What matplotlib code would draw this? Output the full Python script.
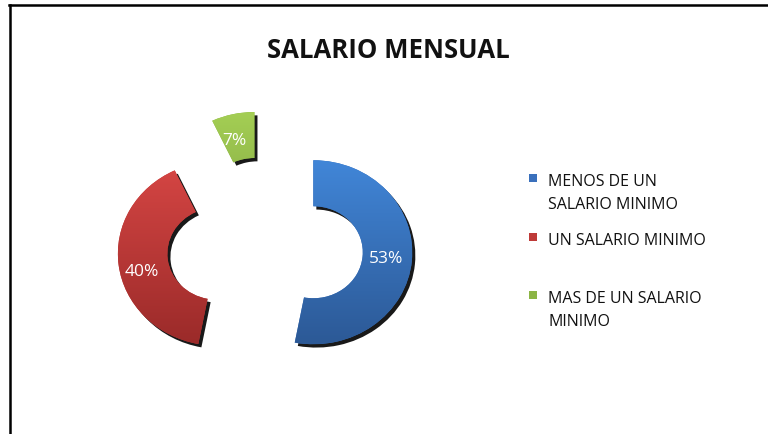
import numpy as np
import matplotlib
matplotlib.use("Agg")
import matplotlib.pyplot as plt
import matplotlib.patheffects as pe
import matplotlib.transforms as mtransforms
from matplotlib.patches import Rectangle
from matplotlib.lines import Line2D
from matplotlib.colors import to_rgb

plt.rcParams['font.family'] = ['Open Sans', 'DejaVu Sans']

title = "SALARIO MENSUAL"
categories = ["MENOS DE UN\nSALARIO MINIMO", "UN SALARIO MINIMO", "MAS DE UN SALARIO\nMINIMO"]
values = [53, 40, 7]
top_colors = ["#4186D8", "#D64644", "#A4CE54"]
bottom_colors = ["#2C5996", "#9A2A29", "#6F9238"]
base_colors = ["#3A70BC", "#BE3A38", "#8CB545"]

W, H = 768, 434
fig = plt.figure(figsize=(W / 100, H / 100), dpi=100)

# pie axes: center at (265, 248) px, radius 99 px horizontally, 92 px vertically
cx, cy, rx, ry = 265, 248, 99, 92
ax = fig.add_axes([(cx - 2 * rx) / W, (H - cy - 2 * ry) / H, 4 * rx / W, 4 * ry / H])
ax.set_axis_off()

wedges, texts, autotexts = ax.pie(
    values, colors=base_colors, startangle=90, counterclock=False,
    explode=[0.49, 0.49, 0.49], radius=1.0, autopct='%1.0f%%', pctdistance=0.75,
    wedgeprops=dict(width=0.5, linewidth=0),
    textprops=dict(color='white', fontsize=12.5))

for w, tc, bc in zip(wedges, top_colors, bottom_colors):
    w.set_path_effects([pe.SimplePatchShadow(offset=(2.2, -2.4), shadow_rgbFace='black', alpha=0.9),
                        pe.Normal()])
    t = np.linspace(0, 1, 256)[:, None]
    grad = (1 - t) * np.array(to_rgb(tc)) + t * np.array(to_rgb(bc))
    grad = grad[:, None, :]
    x0, y0 = w.center
    im = ax.imshow(grad, extent=[x0 - 1, x0 + 1, y0 - 1, y0 + 1], origin='upper',
                   aspect='auto', interpolation='bilinear', zorder=w.get_zorder() + 0.1)
    im.set_clip_path(w)

# small label nudges (in points) to match the reference placement
nudges = [(-1, 0), (-1, -7), (-2.5, -3)]
for t, (dx, dy) in zip(autotexts, nudges):
    t.set_zorder(10)
    t.set_transform(mtransforms.offset_copy(ax.transData, fig=fig, x=dx, y=dy, units='points'))

ax.set_xlim(-2, 2)
ax.set_ylim(-2, 2)
ax.set_aspect('auto')

# title
fig.text(388 / W, 1 - 50 / H, title, ha='center', va='center', fontsize=18.5,
         fontweight='bold', color='#111111')

# legend
leg_y = [180, 239, 297]
for lab, yy, bcol in zip(categories, leg_y, base_colors):
    fig.patches.append(Rectangle((529 / W, 1 - (yy + 2) / H), 8 / W, 8 / H,
                                 transform=fig.transFigure, facecolor=bcol, edgecolor='none'))
    fig.text(548 / W, 1 - (yy - 6) / H, lab, ha='left', va='top', fontsize=11.5,
             color='#111111', linespacing=1.55)

# frame lines (left and top)
fig.add_artist(Line2D([10 / W, 10 / W], [0, 1 - 5 / H], transform=fig.transFigure,
                      color='black', linewidth=1.8))
fig.add_artist(Line2D([9 / W, 1], [1 - 5 / H, 1 - 5 / H], transform=fig.transFigure,
                      color='black', linewidth=1.8))

fig.savefig("out.png", dpi=100, facecolor='white')
